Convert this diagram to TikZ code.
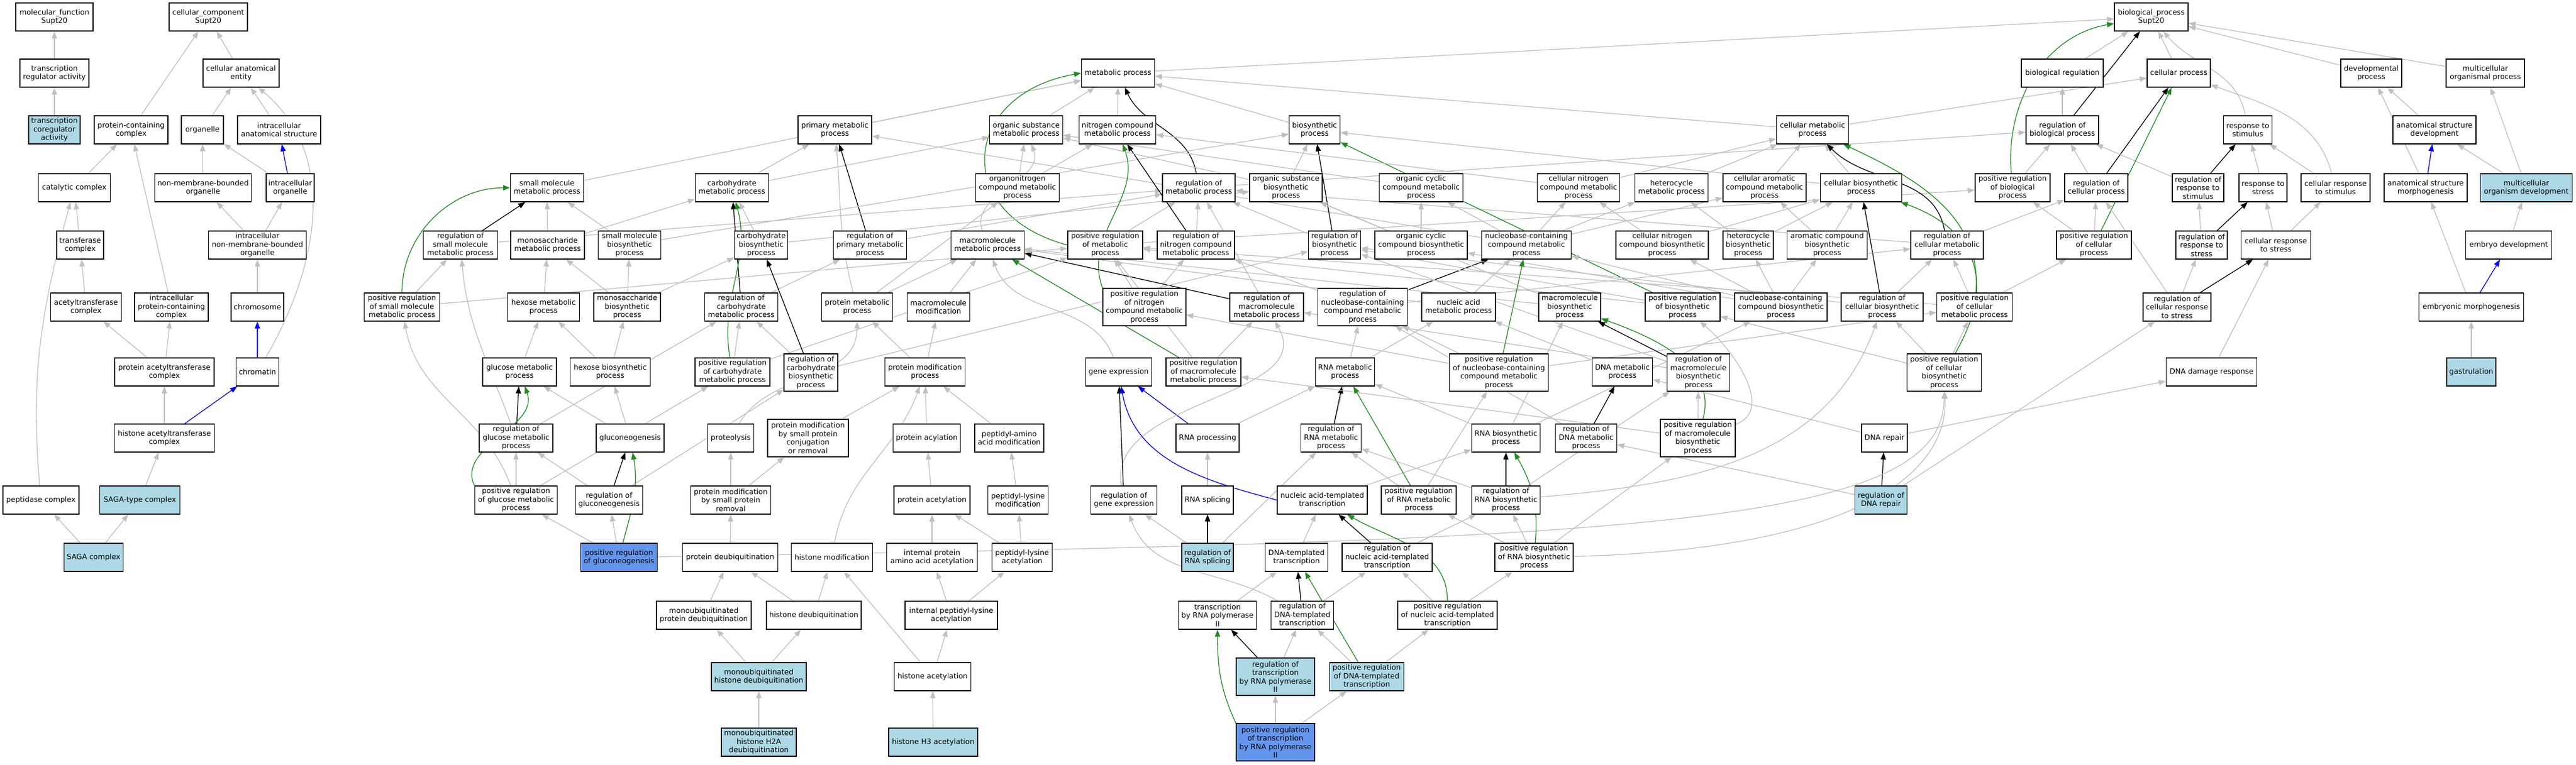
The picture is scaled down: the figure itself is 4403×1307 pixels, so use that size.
\documentclass[tikz,border=0pt]{standalone}
\usepackage{fontspec}
\setmainfont{DejaVu Sans}
\usetikzlibrary{arrows.meta}
\definecolor{isagray}{HTML}{C0C0C0}
\definecolor{pregreen}{HTML}{228B22}
\definecolor{partblue}{HTML}{0000FF}
\definecolor{queryblue}{HTML}{ADD8E6}
\definecolor{hitblue}{HTML}{6495ED}
\pgfdeclarelayer{edges}
\pgfsetlayers{edges,main}
\begin{document}
\begin{tikzpicture}[x=1pt,y=1pt,
  term/.style={draw,line width=1.3pt,fill=white,minimum height=48,inner xsep=2,inner ysep=1,align=center,font=\fontsize{12.5}{14.5}\selectfont},
  tall/.style={minimum height=64},
  query/.style={fill=queryblue},
  hit/.style={fill=hitblue},
  isa/.style={draw=isagray,line width=1.3pt,-{Triangle[length=12pt,width=9pt]}},
  reg/.style={draw=black,line width=1.3pt,-{Triangle[length=12pt,width=9pt]}},
  preg/.style={draw=pregreen,line width=1.3pt,-{Triangle[length=12pt,width=9pt]}},
  part/.style={draw=partblue,line width=1.3pt,-{Triangle[length=12pt,width=9pt]}}]
\useasboundingbox (0,0) rectangle (4403,-1307);
% roots
\node[term,minimum width=132] (mf) at (93,-29) {molecular\_function\\Supt20};
\node[term,minimum width=134] (cc) at (356,-29) {cellular\_component\\Supt20};
\node[term,minimum width=126] (bp) at (3677,-29) {biological\_process\\Supt20};
% rank 2
\node[term,minimum width=118] (tra) at (93,-125) {transcription\\regulator activity};
\node[term,minimum width=130] (cae) at (412,-125) {cellular anatomical\\entity};
\node[term,minimum width=125] (mp) at (1911,-125) {metabolic process};
\node[term,minimum width=140] (breg) at (3525,-125) {biological regulation};
\node[term,minimum width=108] (cp) at (3724,-125) {cellular process};
\node[term,minimum width=104] (dp) at (4053,-125) {developmental\\process};
\node[term,minimum width=134] (mop) at (4248,-125) {multicellular\\organismal process};
% rank 3
\node[term,query,minimum width=88] (tca) at (93,-222) {transcription\\coregulator\\activity};
\node[term,minimum width=126] (pcc) at (224,-222) {protein-containing\\complex};
\node[term,minimum width=72] (org) at (346,-222) {organelle};
\node[term,minimum width=142] (ias) at (477,-222) {intracellular\\anatomical structure};
\node[term,minimum width=126] (pmp) at (1427,-222) {primary metabolic\\process};
\node[term,minimum width=125] (osmp) at (1754,-222) {organic substance\\metabolic process};
\node[term,minimum width=131] (ncmp) at (1910,-222) {nitrogen compound\\metabolic process};
\node[term,minimum width=87] (bsp) at (2247,-222) {biosynthetic\\process};
\node[term,minimum width=123] (cmp) at (3098,-222) {cellular metabolic\\process};
\node[term,minimum width=124] (rbp) at (3525,-222) {regulation of\\biological process};
\node[term,minimum width=83] (rts) at (3842,-222) {response to\\stimulus};
\node[term,minimum width=142] (asd) at (4161,-222) {anatomical structure\\development};
% rank 4
\node[term,minimum width=123] (cat) at (127,-321) {catalytic complex};
\node[term,minimum width=165] (nmbo) at (347,-321) {non-membrane-bounded\\organelle};
\node[term,minimum width=82] (io) at (496,-321) {intracellular\\organelle};
\node[term,minimum width=125] (smmp) at (935,-321) {small molecule\\metabolic process};
\node[term,minimum width=125] (chmp) at (1251,-321) {carbohydrate\\metabolic process};
\node[term,minimum width=143] (oncmp) at (1739,-321) {organonitrogen\\compound metabolic\\process};
\node[term,minimum width=124] (rmp) at (2049,-321) {regulation of\\metabolic process};
\node[term,minimum width=124] (osbp) at (2198,-321) {organic substance\\biosynthetic\\process};
\node[term,minimum width=143] (occmp) at (2429,-321) {organic cyclic\\compound metabolic\\process};
\node[term,minimum width=141] (cncmp) at (2698,-321) {cellular nitrogen\\compound metabolic\\process};
\node[term,minimum width=125] (hmp) at (2857,-321) {heterocycle\\metabolic process};
\node[term,minimum width=142] (cacmp) at (3016,-321) {cellular aromatic\\compound metabolic\\process};
\node[term,minimum width=139] (cbp) at (3181,-321) {cellular biosynthetic\\process};
\node[term,minimum width=128] (prbp) at (3440,-321) {positive regulation\\of biological\\process};
\node[term,minimum width=108] (rcp) at (3583,-321) {regulation of\\cellular process};
\node[term,minimum width=88] (rrs) at (3757,-321) {regulation of\\response to\\stimulus};
\node[term,minimum width=82] (rst) at (3868,-321) {response to\\stress};
\node[term,minimum width=118] (crs) at (3992,-321) {cellular response\\to stimulus};
\node[term,minimum width=142] (asm) at (4146,-321) {anatomical structure\\morphogenesis};
\node[term,query,minimum width=157] (mod) at (4318,-321) {multicellular\\organism development};
% rank 5
\node[term,minimum width=80] (trc) at (137,-419) {transferase\\complex};
\node[term,minimum width=167] (inmbo) at (440,-419) {intracellular\\non-membrane-bounded\\organelle};
\node[term,minimum width=127] (rsmmp) at (787,-419) {regulation of\\small molecule\\metabolic process};
\node[term,minimum width=126] (msmp) at (936,-419) {monosaccharide\\metabolic process};
\node[term,minimum width=107] (smbp) at (1076,-419) {small molecule\\biosynthetic\\process};
\node[term,minimum width=91] (chbp) at (1301,-419) {carbohydrate\\biosynthetic\\process};
\node[term,minimum width=125] (rpmp) at (1487,-419) {regulation of\\primary metabolic\\process};
\node[term,minimum width=125] (mmp) at (1688,-419) {macromolecule\\metabolic process};
\node[term,minimum width=128] (prmp) at (1889,-419) {positive regulation\\of metabolic\\process};
\node[term,minimum width=132] (rncmp) at (2044,-419) {regulation of\\nitrogen compound\\metabolic process};
\node[term,minimum width=89] (rbsp) at (2281,-419) {regulation of\\biosynthetic\\process};
\node[term,minimum width=158] (occbp) at (2429,-419) {organic cyclic\\compound biosynthetic\\process};
\node[term,minimum width=153] (nbcmp) at (2609,-419) {nucleobase-containing\\compound metabolic\\process};
\node[term,minimum width=158] (cncbp) at (2841,-419) {cellular nitrogen\\compound biosynthetic\\process};
\node[term,minimum width=86] (hbp) at (2988,-419) {heterocycle\\biosynthetic\\process};
\node[term,minimum width=137] (acbp) at (3123,-419) {aromatic compound\\biosynthetic\\process};
\node[term,minimum width=124] (rcmp) at (3328,-419) {regulation of\\cellular metabolic\\process};
\node[term,minimum width=128] (prcp) at (3579,-419) {positive regulation\\of cellular\\process};
\node[term,minimum width=88] (rrst) at (3763,-419) {regulation of\\response to\\stress};
\node[term,minimum width=119] (crst) at (3890,-419) {cellular response\\to stress};
\node[term,minimum width=147] (ed) at (4288,-419) {embryo development};
% rank 6
\node[term,minimum width=121] (actc) at (147,-525) {acetyltransferase\\complex};
\node[term,minimum width=126] (ipcc) at (293,-525) {intracellular\\protein-containing\\complex};
\node[term,minimum width=90] (chr) at (440,-525) {chromosome};
\node[term,minimum width=129] (prsmmp) at (687,-525) {positive regulation\\of small molecule\\metabolic process};
\node[term,minimum width=123] (hxmp) at (929,-525) {hexose metabolic\\process};
\node[term,minimum width=114] (msbp) at (1072,-525) {monosaccharide\\biosynthetic\\process};
\node[term,minimum width=125] (rchmp) at (1267,-525) {regulation of\\carbohydrate\\metabolic process};
\node[term,minimum width=121] (ptmp) at (1465,-525) {protein metabolic\\process};
\node[term,minimum width=107] (mmod) at (1604,-525) {macromolecule\\modification};
\node[term,tall,minimum width=142] (prncmp) at (1956,-525) {positive regulation\\of nitrogen\\compound metabolic\\process};
\node[term,minimum width=126] (rmmp) at (2165,-525) {regulation of\\macromolecule\\metabolic process};
\node[term,tall,minimum width=153] (rnbcmp) at (2329,-525) {regulation of\\nucleobase-containing\\compound metabolic\\process};
\node[term,minimum width=126] (namp) at (2493,-525) {nucleic acid\\metabolic process};
\node[term,minimum width=106] (mbp) at (2683,-525) {macromolecule\\biosynthetic\\process};
\node[term,minimum width=128] (prbsp) at (2876,-525) {positive regulation\\of biosynthetic\\process};
\node[term,minimum width=158] (nbcbp) at (3044,-525) {nucleobase-containing\\compound biosynthetic\\process};
\node[term,minimum width=140] (rcbp) at (3217,-525) {regulation of\\cellular biosynthetic\\process};
\node[term,minimum width=129] (prcmp) at (3375,-525) {positive regulation\\of cellular\\metabolic process};
\node[term,minimum width=116] (rcrst) at (3721,-525) {regulation of\\cellular response\\to stress};
\node[term,minimum width=179] (em) at (4224,-525) {embryonic morphogenesis};
% rank 7
\node[term,minimum width=170] (pactc) at (281,-636) {protein acetyltransferase\\complex};
\node[term,minimum width=73] (chrt) at (440,-636) {chromatin};
\node[term,minimum width=126] (glmp) at (888,-636) {glucose metabolic\\process};
\node[term,minimum width=137] (hxbp) at (1043,-636) {hexose biosynthetic\\process};
\node[term,minimum width=128] (prchmp) at (1252,-636) {positive regulation\\of carbohydrate\\metabolic process};
\node[term,tall,minimum width=92] (rchbp) at (1386,-637) {regulation of\\carbohydrate\\biosynthetic\\process};
\node[term,minimum width=137] (pmod) at (1581,-636) {protein modification\\process};
\node[term,minimum width=113] (gex) at (1912,-636) {gene expression};
\node[term,minimum width=128] (prmmp) at (2057,-636) {positive regulation\\of macromolecule\\metabolic process};
\node[term,minimum width=101] (rnamp) at (2299,-636) {RNA metabolic\\process};
\node[term,tall,minimum width=169] (prnbcmp) at (2562,-637) {positive regulation\\of nucleobase-containing\\compound metabolic\\process};
\node[term,minimum width=103] (dnamp) at (2773,-636) {DNA metabolic\\process};
\node[term,tall,minimum width=107] (rmbp) at (2903,-637) {regulation of\\macromolecule\\biosynthetic\\process};
\node[term,tall,minimum width=127] (prcbp) at (3323,-637) {positive regulation\\of cellular\\biosynthetic\\process};
\node[term,minimum width=155] (ddr) at (3780,-636) {DNA damage response};
\node[term,query,minimum width=84] (gas) at (4224,-636) {gastrulation};
% rank 8
\node[term,minimum width=171] (hactc) at (281,-749) {histone acetyltransferase\\complex};
\node[term,minimum width=126] (rglmp) at (882,-749) {regulation of\\glucose metabolic\\process};
\node[term,minimum width=116] (gng) at (1077,-749) {gluconeogenesis};
\node[term,minimum width=79] (ptl) at (1249,-749) {proteolysis};
\node[term,tall,minimum width=138] (pmsp) at (1381,-749) {protein modification\\by small protein\\conjugation\\or removal};
\node[term,minimum width=115] (pacy) at (1584,-749) {protein acylation};
\node[term,minimum width=118] (paam) at (1725,-749) {peptidyl-amino\\acid modification};
\node[term,minimum width=108] (rnap) at (2064,-749) {RNA processing};
\node[term,minimum width=103] (rrnamp) at (2275,-749) {regulation of\\RNA metabolic\\process};
\node[term,minimum width=117] (rnabp) at (2574,-749) {RNA biosynthetic\\process};
\node[term,minimum width=105] (rdnamp) at (2711,-749) {regulation of\\DNA metabolic\\process};
\node[term,tall,minimum width=128] (prmbp) at (2902,-749) {positive regulation\\of macromolecule\\biosynthetic\\process};
\node[term,minimum width=78] (dnar) at (3221,-749) {DNA repair};
% rank 9
\node[term,minimum width=130] (pepc) at (70,-855) {peptidase complex};
\node[term,query,minimum width=137] (sagat) at (239,-855) {SAGA-type complex};
\node[term,minimum width=141] (prglmp) at (882,-855) {positive regulation\\of glucose metabolic\\process};
\node[term,minimum width=115] (rgng) at (1041,-855) {regulation of\\gluconeogenesis};
\node[term,minimum width=137] (pmspr) at (1249,-855) {protein modification\\by small protein\\removal};
\node[term,minimum width=130] (pacet) at (1593,-855) {protein acetylation};
\node[term,minimum width=103] (plm) at (1740,-855) {peptidyl-lysine\\modification};
\node[term,minimum width=113] (rgex) at (1921,-855) {regulation of\\gene expression};
\node[term,minimum width=88] (rnas) at (2064,-855) {RNA splicing};
\node[term,minimum width=154] (natt) at (2260,-855) {nucleic acid-templated\\transcription};
\node[term,minimum width=128] (prrnamp) at (2425,-855) {positive regulation\\of RNA metabolic\\process};
\node[term,minimum width=117] (rrnabp) at (2574,-855) {regulation of\\RNA biosynthetic\\process};
\node[term,query,minimum width=89] (rdnar) at (3215,-855) {regulation of\\DNA repair};
% rank 10
\node[term,query,minimum width=101] (saga) at (160,-953) {SAGA complex};
\node[term,hit,minimum width=131] (prgng) at (1058,-953) {positive regulation\\of gluconeogenesis};
\node[term,minimum width=163] (pdub) at (1248,-953) {protein deubiquitination};
\node[term,minimum width=139] (hmod) at (1422,-953) {histone modification};
\node[term,minimum width=155] (ipaaa) at (1593,-953) {internal protein\\amino acid acetylation};
\node[term,minimum width=103] (plac) at (1747,-953) {peptidyl-lysine\\acetylation};
\node[term,query,minimum width=88] (rrnas) at (2064,-953) {regulation of\\RNA splicing};
\node[term,minimum width=107] (dtt) at (2216,-953) {DNA-templated\\transcription};
\node[term,minimum width=154] (rnatt) at (2371,-953) {regulation of\\nucleic acid-templated\\transcription};
\node[term,minimum width=134] (prrnabp) at (2622,-953) {positive regulation\\of RNA biosynthetic\\process};
% rank 11
\node[term,minimum width=162] (mpdub) at (1203,-1052) {monoubiquitinated\\protein deubiquitination};
\node[term,minimum width=162] (hdub) at (1391,-1052) {histone deubiquitination};
\node[term,minimum width=158] (iplac) at (1626,-1052) {internal peptidyl-lysine\\acetylation};
\node[term,minimum width=133] (trp2) at (2081,-1052) {transcription\\by RNA polymerase\\II};
\node[term,minimum width=107] (rdtt) at (2226,-1052) {regulation of\\DNA-templated\\transcription};
\node[term,minimum width=170] (prnatt) at (2474,-1052) {positive regulation\\of nucleic acid-templated\\transcription};
% rank 12
\node[term,query,minimum width=162] (mhdub) at (1297,-1157) {monoubiquitinated\\histone deubiquitination};
\node[term,minimum width=131] (hacet) at (1594,-1157) {histone acetylation};
\node[term,query,tall,minimum width=134] (rtrp2) at (2180,-1157) {regulation of\\transcription\\by RNA polymerase\\II};
\node[term,query,minimum width=127] (prdtt) at (2336,-1157) {positive regulation\\of DNA-templated\\transcription};
% rank 13
\node[term,query,minimum width=128] (mh2a) at (1297,-1269) {monoubiquitinated\\histone H2A\\deubiquitination};
\node[term,query,minimum width=152] (h3ac) at (1595,-1269) {histone H3 acetylation};
\node[term,hit,tall,minimum width=134] (prtrp2) at (2180,-1269) {positive regulation\\of transcription\\by RNA polymerase\\II};
\begin{pgfonlayer}{edges}
% component and function
\path[draw,isa] (tra)--(mf);
\path[draw,isa] (tca)--(tra);
\path[draw,isa] (pcc)--(cc);
\path[draw,isa] (cae)--(cc);
\path[draw,isa] (org)--(cae);
\path[draw,isa] (ias)--(cae);
\path[draw,isa] (chrt) to[out=60,in=-40] (cae);
\path[draw,isa] (cat)--(pcc);
\path[draw,isa] (ipcc)--(pcc);
\path[draw,isa] (nmbo)--(org);
\path[draw,isa] (io)--(org);
\path[draw,part] (io)--(ias);
\path[draw,isa] (trc)--(cat);
\path[draw,isa] (pepc) to[out=95,in=-105] (cat);
\path[draw,isa] (inmbo)--(nmbo);
\path[draw,isa] (inmbo)--(io);
\path[draw,isa] (actc)--(trc);
\path[draw,isa] (chr)--(inmbo);
\path[draw,isa] (pactc)--(actc);
\path[draw,isa] (pactc)--(ipcc);
\path[draw,part] (chrt)--(chr);
\path[draw,isa] (hactc)--(pactc);
\path[draw,part] (hactc)--(chrt);
\path[draw,isa] (sagat)--(hactc);
\path[draw,isa] (saga)--(pepc);
\path[draw,isa] (saga)--(sagat);
% metabolism, upper part
\path[draw,isa] (mp)--(bp);
\path[draw,isa] (smmp)--(mp);
\path[draw,isa] (pmp)--(mp);
\path[draw,isa] (osmp)--(mp);
\path[draw,isa] (ncmp)--(mp);
\path[draw,isa] (bsp)--(mp);
\path[draw,isa] (cmp)--(mp);
\path[draw,reg] (rmp) to[out=100,in=-65] (mp);
\path[draw,preg] (prmp.west) to[out=165,in=190,looseness=1.8] (mp.west);
\path[draw,isa] (chmp)--(pmp);
\path[draw,isa] (chmp)--(osmp);
\path[draw,isa] (oncmp)--(osmp);
\path[draw,isa] (oncmp)--(ncmp);
\path[draw,isa] (mmp) to[out=110,in=-70] (osmp);
\path[draw,isa] (ptmp) to[out=105,in=-85] (pmp);
\path[draw,isa] (nbcmp)--(pmp);
\path[draw,reg] (rpmp)--(pmp);
\path[draw,isa] (msmp)--(smmp);
\path[draw,isa] (smbp)--(smmp);
\path[draw,reg] (rsmmp)--(smmp);
\path[draw,preg] (prsmmp) to[out=90,in=180] (smmp);
\path[draw,isa] (rsmmp)--(rmp);
\path[draw,isa] (msmp)--(chmp);
\path[draw,isa] (smbp)--(bsp);
\path[draw,isa] (chbp)--(chmp);
\path[draw,isa] (chbp)--(osbp);
\path[draw,reg] (rchmp)--(chmp);
\path[draw,preg] (prchmp) to[out=100,in=-75] (chmp);
\path[draw,isa] (rpmp)--(rmp);
\path[draw,isa] (prmp)--(rmp);
\path[draw,isa] (rncmp)--(rmp);
\path[draw,isa] (rmmp)--(rmp);
\path[draw,isa] (rbsp)--(rmp);
\path[draw,isa] (rcmp)--(rmp);
\path[draw,isa] (rmp)--(rbp);
\path[draw,isa] (prmp)--(prbp);
\path[draw,reg] (rncmp)--(ncmp);
\path[draw,preg] (prncmp.north west) to[out=110,in=-70] (ncmp);
\path[draw,isa] (osbp)--(bsp);
\path[draw,isa] (osbp)--(osmp);
\path[draw,isa] (cbp)--(bsp);
\path[draw,isa] (cbp)--(cmp);
\path[draw,reg] (rbsp)--(bsp);
\path[draw,preg] (prbsp)--(bsp);
\path[draw,isa] (occmp)--(osmp);
\path[draw,isa] (cncmp)--(ncmp);
\path[draw,isa] (cncmp)--(cmp);
\path[draw,isa] (hmp)--(cmp);
\path[draw,isa] (cacmp)--(cmp);
\path[draw,isa] (cmp)--(cp);
\path[draw,reg] (rcmp) to[out=100,in=-45] (cmp);
\path[draw,preg] (prcmp) to[out=85,in=-25] (cmp);
\path[draw,isa] (occbp)--(occmp);
\path[draw,isa] (occbp)--(osbp);
\path[draw,isa] (nbcmp)--(occmp);
\path[draw,isa] (nbcmp)--(cncmp);
\path[draw,isa] (nbcmp)--(hmp);
\path[draw,isa] (nbcmp)--(cacmp);
\path[draw,isa] (cncbp)--(cncmp);
\path[draw,isa] (cncbp)--(cbp);
\path[draw,isa] (hbp)--(hmp);
\path[draw,isa] (hbp)--(cbp);
\path[draw,isa] (acbp)--(cacmp);
\path[draw,isa] (acbp)--(cbp);
\path[draw,reg] (rcbp)--(cbp);
\path[draw,preg] (prcbp) to[out=60,in=-20,looseness=1.3] (cbp);
\path[draw,isa] (rcmp)--(rcp);
% metabolism, middle part
\path[draw,isa] (prsmmp)--(rsmmp);
\path[draw,isa] (prsmmp)--(prmp);
\path[draw,isa] (hxmp)--(msmp);
\path[draw,isa] (msbp)--(msmp);
\path[draw,isa] (msbp)--(smbp);
\path[draw,isa] (msbp)--(chbp);
\path[draw,isa] (rchmp)--(rpmp);
\path[draw,isa] (ptmp)--(mmp);
\path[draw,isa] (ptmp)--(oncmp);
\path[draw,isa] (mmod)--(mmp);
\path[draw,isa] (prncmp)--(prmp);
\path[draw,isa] (prncmp)--(rncmp);
\path[draw,reg] (rmmp)--(mmp);
\path[draw,isa] (rnbcmp)--(rcmp);
\path[draw,isa] (rnbcmp)--(rncmp);
\path[draw,reg] (rnbcmp)--(nbcmp);
\path[draw,isa] (namp)--(nbcmp);
\path[draw,isa] (namp)--(mmp);
\path[draw,isa] (mbp)--(mmp);
\path[draw,isa] (mbp)--(osbp);
\path[draw,isa] (prbsp)--(rbsp);
\path[draw,isa] (prbsp)--(prmp);
\path[draw,isa] (nbcbp)--(nbcmp);
\path[draw,isa] (nbcbp)--(cncbp);
\path[draw,isa] (nbcbp)--(hbp);
\path[draw,isa] (nbcbp)--(acbp);
\path[draw,isa] (nbcbp)--(occbp);
\path[draw,isa] (rcbp)--(rcmp);
\path[draw,isa] (rcbp)--(rbsp);
\path[draw,isa] (prcmp)--(rcmp);
\path[draw,isa] (prcmp)--(prcp);
\path[draw,isa] (prcmp)--(prmp);
% metabolism, lower part
\path[draw,isa] (glmp)--(hxmp);
\path[draw,isa] (hxbp)--(hxmp);
\path[draw,isa] (hxbp)--(msbp);
\path[draw,isa] (prchmp)--(rchmp);
\path[draw,isa] (prchmp)--(prmp);
\path[draw,isa] (rchbp)--(rchmp);
\path[draw,isa] (rchbp)--(rbsp);
\path[draw,reg] (rchbp)--(chbp);
\path[draw,isa] (pmod)--(ptmp);
\path[draw,isa] (pmod)--(mmod);
\path[draw,isa] (gex) to[out=110,in=-70] (mmp);
\path[draw,isa] (prmmp)--(rmmp);
\path[draw,isa] (prmmp)--(prmp);
\path[draw,preg] (prmmp)--(mmp);
\path[draw,isa] (rnamp)--(namp);
\path[draw,isa] (prnbcmp)--(rnbcmp);
\path[draw,isa] (prnbcmp)--(prncmp);
\path[draw,isa] (prnbcmp)--(prcmp);
\path[draw,preg] (prnbcmp)--(nbcmp);
\path[draw,isa] (dnamp)--(namp);
\path[draw,isa] (rmbp)--(rbsp);
\path[draw,isa] (rmbp)--(rmmp);
\path[draw,reg] (rmbp)--(mbp);
\path[draw,isa] (prcbp)--(prcmp);
\path[draw,isa] (prcbp)--(rcbp);
\path[draw,isa] (prcbp)--(prbsp);
\path[draw,isa] (rglmp)--(rchmp);
\path[draw,isa] (rglmp) to[out=110,in=-85] (rsmmp);
\path[draw,reg] (rglmp)--(glmp);
\path[draw,isa] (gng)--(hxbp);
\path[draw,isa] (gng)--(glmp);
\path[draw,isa] (ptl) to[out=60,in=-90] (ptmp);
\path[draw,isa] (pmsp)--(pmod);
\path[draw,isa] (pacy)--(pmod);
\path[draw,isa] (paam)--(pmod);
\path[draw,isa] (rnap)--(rnamp);
\path[draw,part] (rnap)--(gex);
\path[draw,isa] (rrnamp)--(rnbcmp);
\path[draw,reg] (rrnamp)--(rnamp);
\path[draw,isa] (rnabp)--(rnamp);
\path[draw,isa] (rnabp)--(nbcbp);
\path[draw,isa] (rnabp)--(mbp);
\path[draw,isa] (rdnamp)--(rnbcmp);
\path[draw,reg] (rdnamp)--(dnamp);
\path[draw,isa] (prmbp)--(rmbp);
\path[draw,isa] (prmbp)--(prmmp);
\path[draw,isa] (prmbp) to[out=20,in=-40] (prbsp);
\path[draw,preg] (prmbp) to[out=75,in=-20] (mbp);
\path[draw,isa] (dnar)--(dnamp);
\path[draw,isa] (dnar)--(ddr);
% regulation of glucose and protein modification
\path[draw,isa] (prglmp)--(rglmp);
\path[draw,isa] (prglmp) to[out=110,in=-80] (prsmmp);
\path[draw,isa] (prglmp)--(prchmp);
\path[draw,preg] (prglmp.north west) to[out=115,in=-70] (glmp);
\path[draw,isa] (rgng)--(rglmp);
\path[draw,isa] (rgng)--(rchbp);
\path[draw,reg] (rgng)--(gng);
\path[draw,isa] (pmspr)--(ptl);
\path[draw,isa] (pmspr)--(pmsp);
\path[draw,isa] (pacet)--(pacy);
\path[draw,isa] (plm)--(paam);
\path[draw,isa] (rgex) to[out=100,in=-60] (rmmp);
\path[draw,reg] (rgex)--(gex);
\path[draw,isa] (rnas)--(rnap);
\path[draw,isa] (natt)--(rnabp);
\path[draw,part] (natt.west) to[out=165,in=-80] (gex);
\path[draw,isa] (prrnamp)--(rrnamp);
\path[draw,isa] (prrnamp)--(prnbcmp);
\path[draw,preg] (prrnamp)--(rnamp);
\path[draw,isa] (rrnabp)--(rrnamp);
\path[draw,isa] (rrnabp) to[out=5,in=-110] (rcbp);
\path[draw,isa] (rrnabp)--(rmbp);
\path[draw,reg] (rrnabp)--(rnabp);
\path[draw,isa] (rdnar)--(rdnamp);
\path[draw,isa] (rdnar)--(rcrst);
\path[draw,reg] (rdnar)--(dnar);
\path[draw,isa] (prgng)--(prglmp);
\path[draw,isa] (prgng)--(rgng);
\path[draw,isa] (prgng) .. controls (2800,-925) and (3323,-900) .. (prcbp);
\path[draw,preg] (prgng) to[out=75,in=-80] (gng);
\path[draw,isa] (pdub)--(pmspr);
\path[draw,isa] (hmod) to[out=80,in=-110] (pmod);
\path[draw,isa] (ipaaa)--(pacet);
\path[draw,isa] (plac)--(pacet);
\path[draw,isa] (plac)--(plm);
\path[draw,isa] (rrnas)--(rgex);
\path[draw,isa] (rrnas)--(rrnamp);
\path[draw,reg] (rrnas)--(rnas);
\path[draw,isa] (dtt)--(natt);
\path[draw,isa] (rnatt)--(rrnabp);
\path[draw,reg] (rnatt)--(natt);
\path[draw,isa] (prrnabp)--(rrnabp);
\path[draw,isa] (prrnabp)--(prrnamp);
\path[draw,isa] (prrnabp)--(prmbp);
\path[draw,isa] (prrnabp) .. controls (3150,-940) and (3330,-820) .. (prcbp);
\path[draw,preg] (prrnabp) to[out=85,in=-60] (rnabp);
\path[draw,isa] (mpdub)--(pdub);
\path[draw,isa] (hdub)--(pdub);
\path[draw,isa] (hdub)--(hmod);
\path[draw,isa] (iplac)--(ipaaa);
\path[draw,isa] (iplac)--(plac);
\path[draw,isa] (trp2)--(dtt);
\path[draw,isa] (rdtt)--(rnatt);
\path[draw,isa] (rdtt) to[out=150,in=-70] (rgex);
\path[draw,reg] (rdtt)--(dtt);
\path[draw,isa] (prnatt)--(rnatt);
\path[draw,isa] (prnatt)--(prrnabp);
\path[draw,preg] (prnatt) to[out=90,in=-30] (natt);
\path[draw,isa] (mhdub)--(mpdub);
\path[draw,isa] (mhdub)--(hdub);
\path[draw,isa] (hacet)--(hmod);
\path[draw,isa] (hacet)--(iplac);
\path[draw,isa] (rtrp2)--(rdtt);
\path[draw,reg] (rtrp2)--(trp2);
\path[draw,isa] (prdtt)--(rdtt);
\path[draw,isa] (prdtt)--(prnatt);
\path[draw,preg] (prdtt)--(dtt);
\path[draw,isa] (mh2a)--(mhdub);
\path[draw,isa] (h3ac)--(hacet);
\path[draw,isa] (prtrp2)--(rtrp2);
\path[draw,isa] (prtrp2)--(prdtt);
\path[draw,preg] (prtrp2.north west) to[out=115,in=-90] (trp2);
% biological process side
\path[draw,isa] (breg)--(bp);
\path[draw,isa] (cp)--(bp);
\path[draw,isa] (rts) to[out=100,in=-50] (bp);
\path[draw,isa] (dp)--(bp);
\path[draw,isa] (mop)--(bp);
\path[draw,isa] (rbp)--(breg);
\path[draw,reg] (rbp)--(bp);
\path[draw,isa] (prbp)--(rbp);
\path[draw,preg] (prbp) to[out=95,in=190] (bp);
\path[draw,isa] (rcp)--(rbp);
\path[draw,reg] (rcp)--(cp);
\path[draw,isa] (rrs)--(rbp);
\path[draw,reg] (rrs)--(rts);
\path[draw,isa] (rst)--(rts);
\path[draw,isa] (crs)--(rts);
\path[draw,isa] (crs) to[out=105,in=-20] (cp);
\path[draw,isa] (prcp)--(rcp);
\path[draw,isa] (prcp)--(prbp);
\path[draw,preg] (prcp)--(cp);
\path[draw,isa] (rrst)--(rrs);
\path[draw,reg] (rrst)--(rst);
\path[draw,isa] (crst)--(rst);
\path[draw,isa] (crst)--(crs);
\path[draw,isa] (rcrst)--(rrst);
\path[draw,isa] (rcrst)--(rcp);
\path[draw,reg] (rcrst)--(crst);
\path[draw,isa] (ddr)--(crst);
\path[draw,isa] (asd)--(dp);
\path[draw,isa] (asm)--(dp);
\path[draw,part] (asm)--(asd);
\path[draw,isa] (mod)--(asd);
\path[draw,isa] (mod)--(mop);
\path[draw,isa] (ed)--(mod);
\path[draw,isa] (em)--(asm);
\path[draw,part] (em)--(ed);
\path[draw,isa] (gas)--(em);
\end{pgfonlayer}
\end{tikzpicture}
\end{document}
